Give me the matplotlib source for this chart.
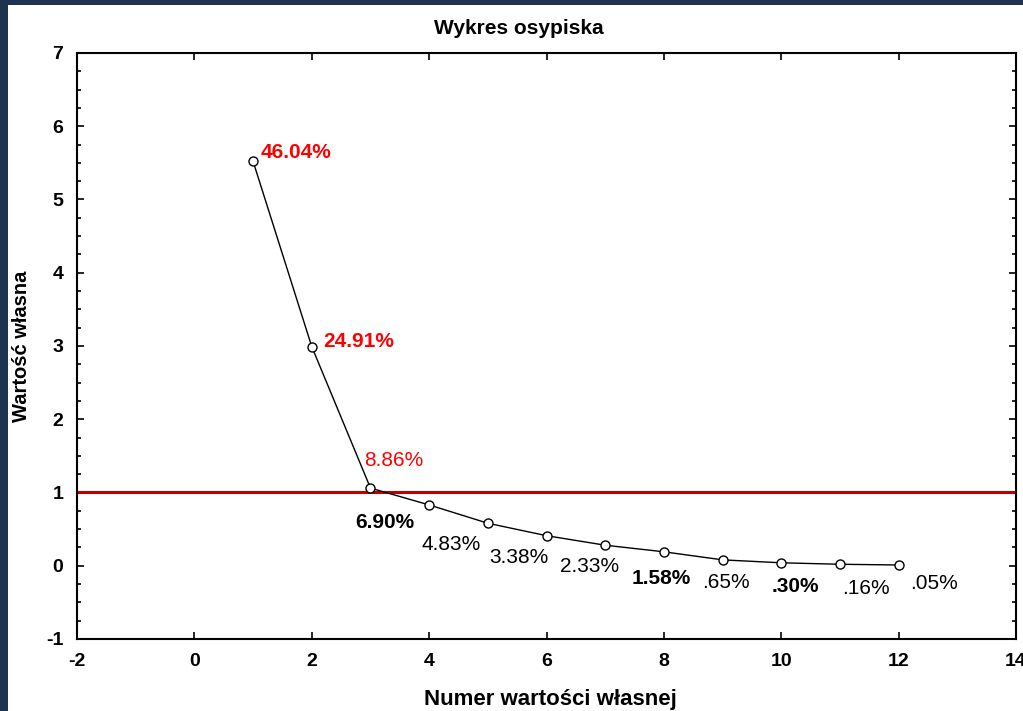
import matplotlib
matplotlib.use("Agg")
import matplotlib.pyplot as plt
from matplotlib.patches import Rectangle
from matplotlib.ticker import MultipleLocator

plt.rcParams["font.family"] = ["Liberation Sans", "DejaVu Sans"]
plt.rcParams["axes.unicode_minus"] = False

numbers = [1, 2, 3, 4, 5, 6, 7, 8, 9, 10, 11, 12]
eigenvalues = [5.52, 2.99, 1.06, 0.83, 0.58, 0.41, 0.28, 0.19, 0.08, 0.04, 0.02, 0.01]
pct_labels = ["46.04%", "24.91%", "8.86%", "6.90%", "4.83%", "3.38%",
              "2.33%", "1.58%", ".65%", ".30%", ".16%", ".05%"]
threshold = 1.0

# label placement (pixel offsets from the point) and styling
offsets = [(8, 9), (11, 5), (-6, 28), (-74, -18), (-66, -21), (-57, -22),
           (-45, -21), (-32, -27), (-20, -23), (-10, -24), (2, -24), (11, -19)]
colors = ["red", "red", "red"] + ["black"] * 9
weights = ["bold", "bold", "normal", "bold", "normal", "normal",
           "normal", "bold", "normal", "bold", "normal", "normal"]

fig = plt.figure(figsize=(10.23, 7.11), dpi=100, facecolor="#1d3350")
fig.patches.append(Rectangle((8 / 1023, 0), 1, 706 / 711, transform=fig.transFigure,
                             facecolor="white", edgecolor="none", zorder=-10))
ax = fig.add_axes([0.0753, 0.1013, 0.9179, 0.8242])
ax.set_facecolor("white")

ax.axhline(threshold, color="#c00000", lw=2.2, zorder=2)
ax.plot(numbers, eigenvalues, color="black", lw=1, marker="o", ms=6.5,
        mfc="white", mec="black", mew=1, zorder=3)

for x, y, t, (dx, dy), c, w in zip(numbers, eigenvalues, pct_labels, offsets, colors, weights):
    ax.annotate(t, (x, y), xytext=(dx * 0.72, dy * 0.72), textcoords="offset points",
                ha="left", va="center", color=c, fontweight=w, fontsize=15)

ax.set_xlim(-2, 14)
ax.set_ylim(-1, 7)
ax.xaxis.set_major_locator(MultipleLocator(2))
ax.yaxis.set_major_locator(MultipleLocator(1))
ax.yaxis.set_minor_locator(MultipleLocator(0.25))
ax.tick_params(which="both", direction="in", top=True, right=True, width=1.2)
ax.tick_params(which="major", length=5, labelsize=14, pad=10)
ax.tick_params(which="minor", length=3)
for lbl in ax.get_xticklabels() + ax.get_yticklabels():
    lbl.set_fontweight("bold")
for s in ax.spines.values():
    s.set_linewidth(1.5)

fig.text(519 / 1023, 1 - 29 / 711, "Wykres osypiska", ha="center", va="center",
         fontsize=15, fontweight="bold")
fig.text(550 / 1023, 1 - 699 / 711, "Numer wartości własnej", ha="center", va="center",
         fontsize=16, fontweight="bold")
fig.text(22 / 1023, 1 - 346 / 711, "Wartość własna", ha="center", va="center",
         rotation=90, fontsize=14.5, fontweight="bold")

fig.savefig("out.png", dpi=100, facecolor=fig.get_facecolor())
